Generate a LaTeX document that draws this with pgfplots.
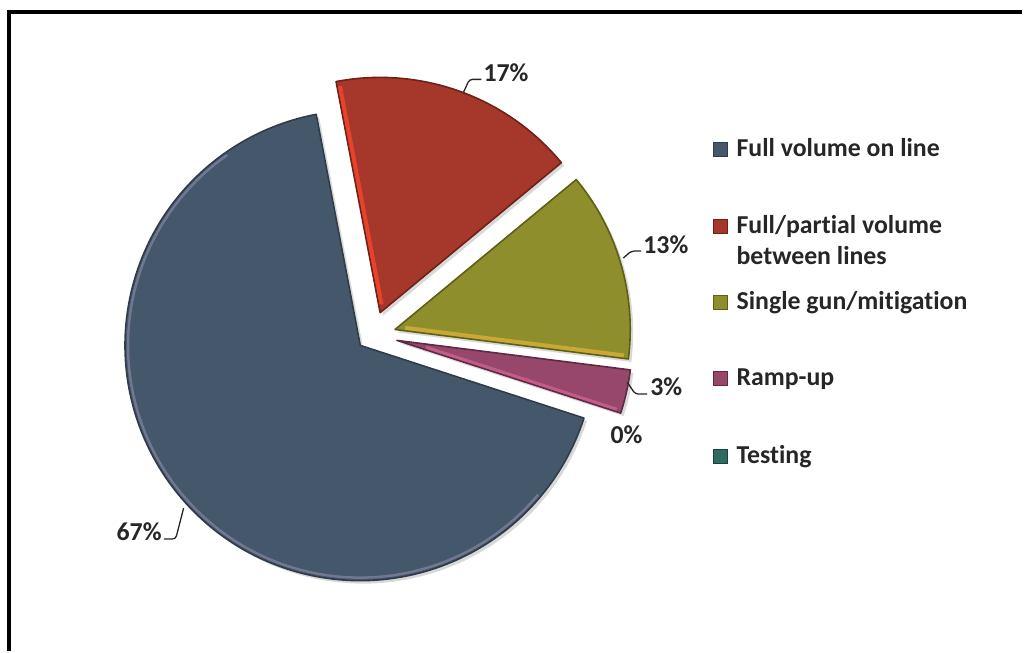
\documentclass[border=0pt]{standalone}
\usepackage{pgfplots}
\pgfplotsset{compat=1.18}
\usepackage{pgfplotstable}
\usepackage{fontspec}
\setmainfont{Carlito}[Ligatures=NoCommon]
\usetikzlibrary{shadows}

\definecolor{cSlate}{HTML}{45576A}
\definecolor{cSlateD}{HTML}{2F3D4B}
\definecolor{cSlateL}{HTML}{7D7F9A}
\definecolor{cRed}{HTML}{A5382A}
\definecolor{cRedD}{HTML}{6E2118}
\definecolor{cRedL}{HTML}{E8432A}
\definecolor{cOlive}{HTML}{8E8E2C}
\definecolor{cOliveD}{HTML}{5E5E16}
\definecolor{cOliveL}{HTML}{C9A835}
\definecolor{cPink}{HTML}{97476A}
\definecolor{cPinkD}{HTML}{5E2A42}
\definecolor{cPinkL}{HTML}{C45C8A}
\definecolor{cTeal}{HTML}{2E6B62}
\definecolor{cText}{HTML}{262626}

\pgfplotstableread{
key value
full 67
partial 17
single 13
ramp 3
testing 0
}\piedata

\begin{document}
\begin{tikzpicture}
\pgfplotstablegetelem{0}{value}\of\piedata \pgfmathsetmacro\vA{\pgfplotsretval}
\pgfplotstablegetelem{1}{value}\of\piedata \pgfmathsetmacro\vB{\pgfplotsretval}
\pgfplotstablegetelem{2}{value}\of\piedata \pgfmathsetmacro\vC{\pgfplotsretval}
\pgfplotstablegetelem{3}{value}\of\piedata \pgfmathsetmacro\vD{\pgfplotsretval}
\pgfplotstablegetelem{4}{value}\of\piedata \pgfmathsetmacro\vE{\pgfplotsretval}
\pgfmathsetmacro\T{100.8}
\pgfmathsetmacro\aB{\T-3.6*\vB}
\pgfmathsetmacro\aC{\aB-3.6*\vC}
\pgfmathsetmacro\aD{\aC-3.6*\vD}
\pgfmathsetmacro\aE{\aD-3.6*\vE}
\pgfmathsetmacro\aS{\aE-3.6*\vA}
\begin{axis}[x=1pt,y=1pt,xmin=0,xmax=1024,ymin=0,ymax=656,
  hide axis, scale only axis, clip=false]
\path (axis cs:0,0) rectangle (axis cs:1024,656);
% frame
\draw[black, line width=3.5pt] (axis cs:9,0) -- (axis cs:9,644) -- (axis cs:1030,644);
% slices
\tikzset{slice/.style={line width=1.6pt, line join=round,
   drop shadow={shadow xshift=3pt, shadow yshift=-3pt, opacity=0.3}}}
\filldraw[slice, fill=cSlate, draw=cSlateD] (axis cs:363,308) -- ++(\aE:237pt)
   arc[start angle=\aE, end angle=\aS, radius=237pt] -- cycle;
\draw[cSlateL, line width=2.5pt, opacity=0.8] (axis cs:363,308) ++(-40:234pt)
   arc[start angle=-40, end angle=-235, radius=234pt];
\filldraw[slice, fill=cRed, draw=cRedD] (axis cs:383,341) -- ++(\T:237pt)
   arc[start angle=\T, end angle=\aB, radius=237pt] -- cycle;
\draw[cRedL, line width=4pt] (axis cs:383,341) ++(\T-90:3pt) ++(\T:8pt) -- ++(\T:224pt);
\filldraw[slice, fill=cOlive, draw=cOliveD] (axis cs:398,324) -- ++(\aB:237pt)
   arc[start angle=\aB, end angle=\aC, radius=237pt] -- cycle;
\draw[cOliveL, line width=4pt] (axis cs:398,324) ++(\aC+90:3pt) ++(\aC:10pt) -- ++(\aC:222pt);
\filldraw[slice, fill=cPink, draw=cPinkD] (axis cs:400,313) -- ++(\aC:237pt)
   arc[start angle=\aC, end angle=\aD, radius=237pt] -- cycle;
\draw[cPinkL, line width=3pt] (axis cs:400,313) ++(\aD+90:2.5pt) ++(\aD:30pt) -- ++(\aD:202pt);
% data labels
\tikzset{lbl/.style={font=\fontsize{26}{31}\selectfont\bfseries, text=cText, inner sep=0pt}}
\tikzset{lead/.style={draw=cText, line width=1.3pt, rounded corners=3pt}}
\draw[lead] (axis cs:467,563) -- (axis cs:473,576) -- (axis cs:485,576);
\node[lbl, anchor=base west] at (axis cs:487,574) {17\%};
\draw[lead] (axis cs:628,396) -- (axis cs:636,403) -- (axis cs:646,403);
\node[lbl, anchor=base west] at (axis cs:648,401) {13\%};
\draw[lead] (axis cs:632,271) -- (axis cs:640,259) -- (axis cs:652,259);
\node[lbl, anchor=base west] at (axis cs:655,258) {3\%};
\node[lbl, anchor=base west] at (axis cs:615,209) {0\%};
\draw[lead] (axis cs:185,144) -- (axis cs:177,113) -- (axis cs:165,113);
\node[lbl, anchor=base east] at (axis cs:163,111) {67\%};
% legend
\tikzset{leg/.style={font=\fontsize{26}{32}\selectfont\bfseries, text=cText, inner sep=0pt, anchor=base west, align=left}}
\tikzset{sq/.style={line width=1pt}}
\filldraw[sq, fill=cSlate, draw=cSlateD] (axis cs:719,498) rectangle (axis cs:733,512);
\node[leg] at (axis cs:742,498) {Full volume on line};
\filldraw[sq, fill=cRed, draw=cRedD] (axis cs:719,421) rectangle (axis cs:733,435);
\node[leg] at (axis cs:742,421) {Full/partial volume};
\node[leg] at (axis cs:742,389) {between lines};
\filldraw[sq, fill=cOlive, draw=cOliveD] (axis cs:719,344) rectangle (axis cs:733,358);
\node[leg] at (axis cs:742,344) {Single gun/mitigation};
\filldraw[sq, fill=cPink, draw=cPinkD] (axis cs:719,268) rectangle (axis cs:733,282);
\node[leg] at (axis cs:742,268) {Ramp-up};
\filldraw[sq, fill=cTeal, draw=cTeal!60!black] (axis cs:719,189) rectangle (axis cs:733,203);
\node[leg] at (axis cs:742,189) {Testing};
\end{axis}
\end{tikzpicture}
\end{document}
